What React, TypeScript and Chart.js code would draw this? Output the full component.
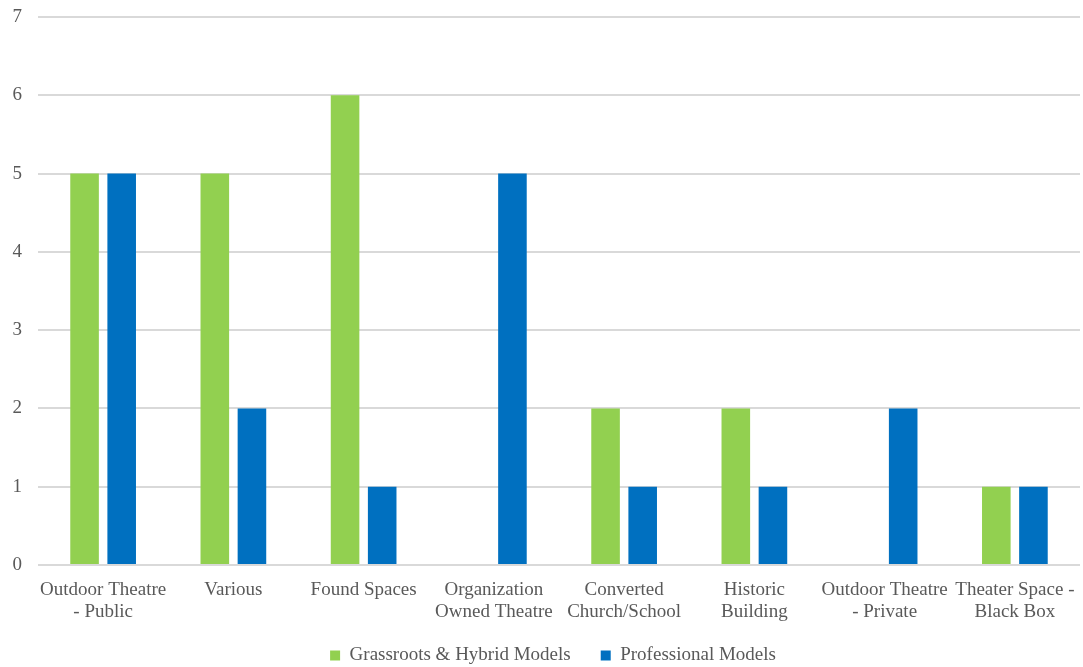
import React, { useEffect, useRef } from "react";
import { Chart, registerables } from "chart.js";

Chart.register(...registerables);

const categories: (string | string[])[] = [
  ["Outdoor Theatre", "- Public"],
  "Various",
  "Found Spaces",
  ["Organization", "Owned Theatre"],
  ["Converted", "Church/School"],
  ["Historic", "Building"],
  ["Outdoor Theatre", "- Private"],
  ["Theater Space -", "Black Box"],
];
const grassrootsValues = [5, 5, 6, 0, 2, 2, 0, 1];
const professionalValues = [5, 2, 1, 5, 1, 1, 2, 1];
const yTicks = [0, 1, 2, 3, 4, 5, 6, 7];

const FONT = "'Liberation Serif', 'Times New Roman', serif";
const TEXT = "#595959";

const legendFix = {
  id: "legendFix",
  beforeUpdate(chart: any) {
    const lg = chart.legend;
    if (lg && !lg._patched) {
      const orig = lg.fit.bind(lg);
      lg.fit = function () {
        orig();
        this.height = 51;
      };
      lg._patched = true;
    }
  },
  afterLayout(chart: any) {
    const lg = chart.legend;
    if (lg) {
      lg.left += 13;
      lg.right += 13;
    }
  },
};

export default function App() {
  const ref = useRef<HTMLCanvasElement | null>(null);
  useEffect(() => {
    if (!ref.current) return;
    const chart = new Chart(ref.current, {
      type: "bar",
      data: {
        labels: categories,
        datasets: [
          {
            label: "Grassroots & Hybrid Models",
            data: grassrootsValues,
            backgroundColor: "#92D050",
            barPercentage: 0.77,
            categoryPercentage: 0.57,
          },
          {
            label: "Professional Models",
            data: professionalValues,
            backgroundColor: "#0070C0",
            barPercentage: 0.77,
            categoryPercentage: 0.57,
          },
        ],
      },
      plugins: [legendFix],
      options: {
        animation: false,
        responsive: false,
        maintainAspectRatio: false,
        layout: { padding: { top: 17, right: 3, left: 0, bottom: 0 } },
        plugins: {
          tooltip: { enabled: false },
          legend: {
            position: "bottom",
            labels: {
              font: { family: FONT, size: 19 },
              color: TEXT,
              boxWidth: 10,
              boxHeight: 10,
              padding: 30,
            },
          },
        },
        scales: {
          x: {
            grid: { display: false, drawTicks: false },
            border: { display: false },
            ticks: {
              font: { family: FONT, size: 19, lineHeight: 1.15 },
              color: TEXT,
              padding: 14,
              maxRotation: 0,
              autoSkip: false,
            },
            afterFit: (s: any) => {
              s.height = 51;
              s.paddingLeft = 0;
              s.paddingRight = 0;
              s._computeLabelArea = () => undefined;
            },
          },
          y: {
            min: 0,
            max: 7,
            grid: { color: "#d9d9d9", lineWidth: 2, drawTicks: false },
            border: { display: false },
            afterBuildTicks: (s: any) => {
              s.ticks = yTicks.map((v) => ({ value: v }));
            },
            ticks: {
              stepSize: 1,
              font: { family: FONT, size: 19 },
              color: TEXT,
              padding: 16,
            },
            afterFit: (s: any) => {
              s.width = 38;
              s.paddingTop = 0;
              s.paddingBottom = 0;
            },
          },
        },
      },
    });
    return () => chart.destroy();
  }, []);
  return (
    <div style={{ position: "fixed", left: 0, top: 0, width: 1083, height: 667, background: "#fff" }}>
      <canvas ref={ref} width={1083} height={667} style={{ width: 1083, height: 667 }} />
    </div>
  );
}
